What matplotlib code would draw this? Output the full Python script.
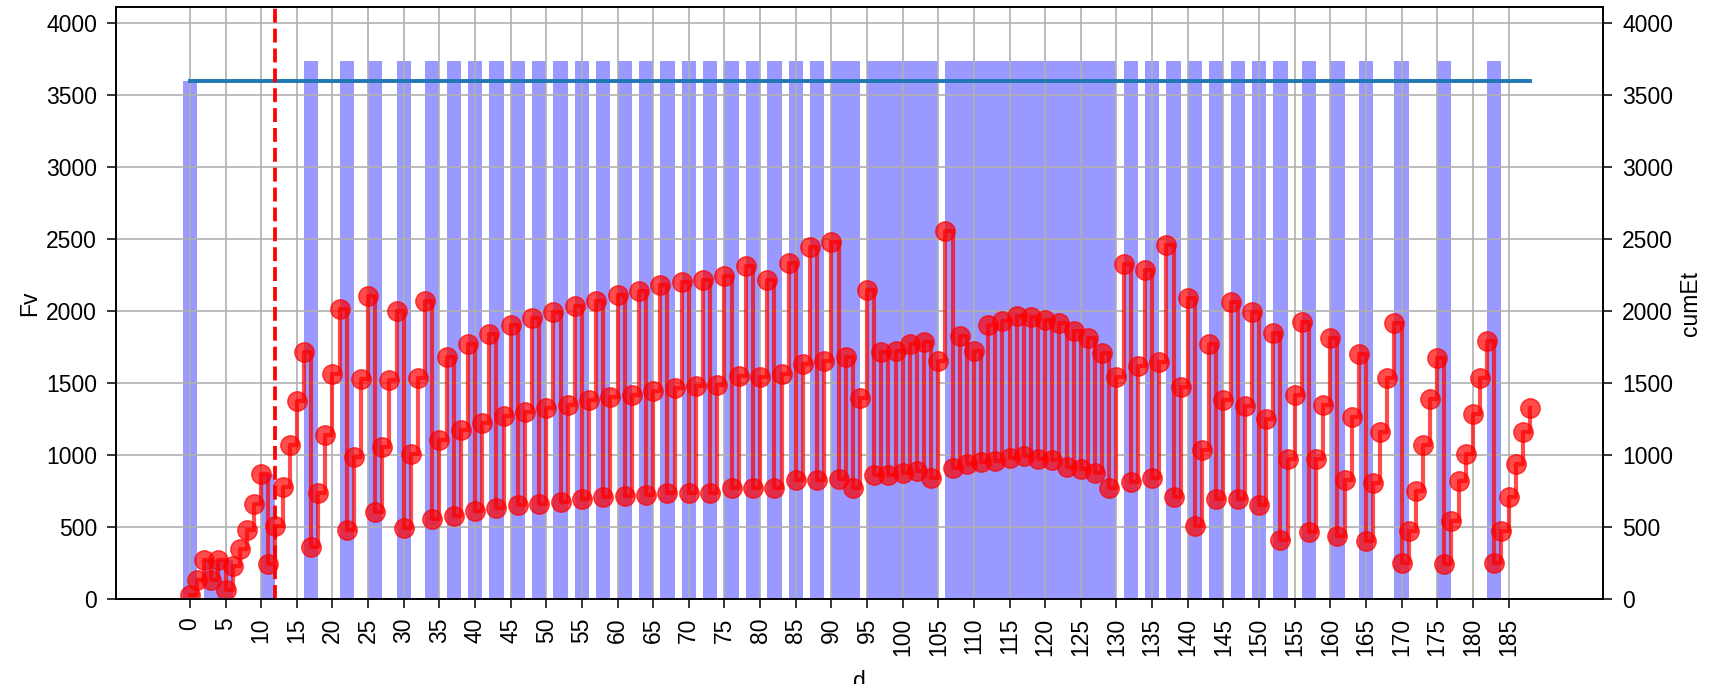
import numpy as np
import matplotlib
matplotlib.use("Agg")
import matplotlib.pyplot as plt

plt.rcParams['font.family'] = ['Liberation Sans', 'DejaVu Sans']
plt.rcParams['font.size'] = 16.5

# Fv per day d = 0..188
fv = [25, 130, 273, 130, 273, 64, 228, 349, 480, 662,
      868, 243, 504, 777, 1071, 1375, 1715, 358, 737, 1141,
      1566, 2018, 480, 986, 1527, 2103, 601, 1053, 1520, 2000,
      495, 1008, 1533, 2073, 555, 1108, 1684, 580, 1175, 1772,
      610, 1226, 1842, 630, 1270, 1906, 652, 1299, 1951, 662,
      1329, 1991, 677, 1351, 2033, 692, 1381, 2073, 707, 1405,
      2112, 713, 1420, 2140, 722, 1442, 2179, 737, 1466, 2203,
      737, 1481, 2219, 737, 1490, 2246, 774, 1551, 2316, 768,
      1542, 2216, 768, 1566, 2337, 829, 1633, 2445, 829, 1654,
      2483, 832, 1681, 768, 1399, 2149, 859, 1715, 865, 1724,
      874, 1769, 889, 1785, 844, 1654, 2559, 910, 1830, 935,
      1724, 950, 1906, 959, 1930, 980, 1967, 995, 1961, 974,
      1936, 965, 1921, 920, 1860, 904, 1815, 874, 1709, 768,
      1542, 2331, 813, 1618, 2285, 844, 1648, 2458, 707, 1476,
      2094, 510, 1038, 1769, 692, 1381, 2067, 692, 1338, 1991,
      652, 1253, 1845, 413, 971, 1420, 1927, 464, 971, 1351,
      1815, 440, 829, 1263, 1703, 404, 804, 1162, 1539, 1915,
      252, 470, 747, 1071, 1390, 1678, 243, 540, 819, 1005,
      1284, 1539, 1794, 252, 473, 707, 935, 1162, 1329]
d = np.arange(len(fv))

# event bars
bar_d = [0, 3, 5, 11, 17, 22, 26, 30, 34, 37, 40, 43, 46, 49, 52, 55, 58, 61,
         64, 67, 70, 73, 76, 79, 82, 85, 88, 91, 93, 96, 98, 100, 102, 104,
         107, 109, 111, 113, 115, 117, 119, 121, 123, 125, 127, 129, 132, 135,
         138, 141, 144, 147, 150, 153, 157, 161, 165, 170, 176, 183]
bar_h = [3600, 273, 273, 868] + [3736] * (len(bar_d) - 4)

cum_limit = 3600
cut_day = 12

fig = plt.figure(figsize=(17.1, 6.84), dpi=100)
ax = fig.add_axes([0.0678, 0.1243, 0.8698, 0.8651])

ax.bar(bar_d, bar_h, width=2, color='blue', alpha=0.4, zorder=1)
ax.plot([d[0], d[-1]], [cum_limit, cum_limit], color='#1f77b4', lw=2.8)
ax.plot(d, fv, color='red', alpha=0.7, lw=3.0, drawstyle='steps-post',
        marker='o', markersize=14)
ax.axvline(cut_day, color='red', ls='--', lw=2.7)

ax.set_xlim(-10.38, 198.3)
ax.set_ylim(0, 4112)
ax.set_xticks(np.arange(0, 186, 5))
ax.tick_params(axis='x', labelrotation=90)
ax.set_yticks(np.arange(0, 4001, 500))
ax.grid(True, color='#b0b0b0', lw=1.2)
ax.tick_params(length=6.5, width=1.1, pad=7)
for s in ax.spines.values():
    s.set_linewidth(1.2)
ax.set_xlabel('d', labelpad=10)
ax.set_ylabel('Fv')

ax2 = ax.twinx()
ax2.set_ylim(ax.get_ylim())
ax2.set_yticks(np.arange(0, 4001, 500))
ax2.tick_params(length=6.5, width=1.1, pad=7)
ax2.set_ylabel('cumEt')
for s in ax2.spines.values():
    s.set_linewidth(1.2)

fig.savefig('out.png', dpi=100)
